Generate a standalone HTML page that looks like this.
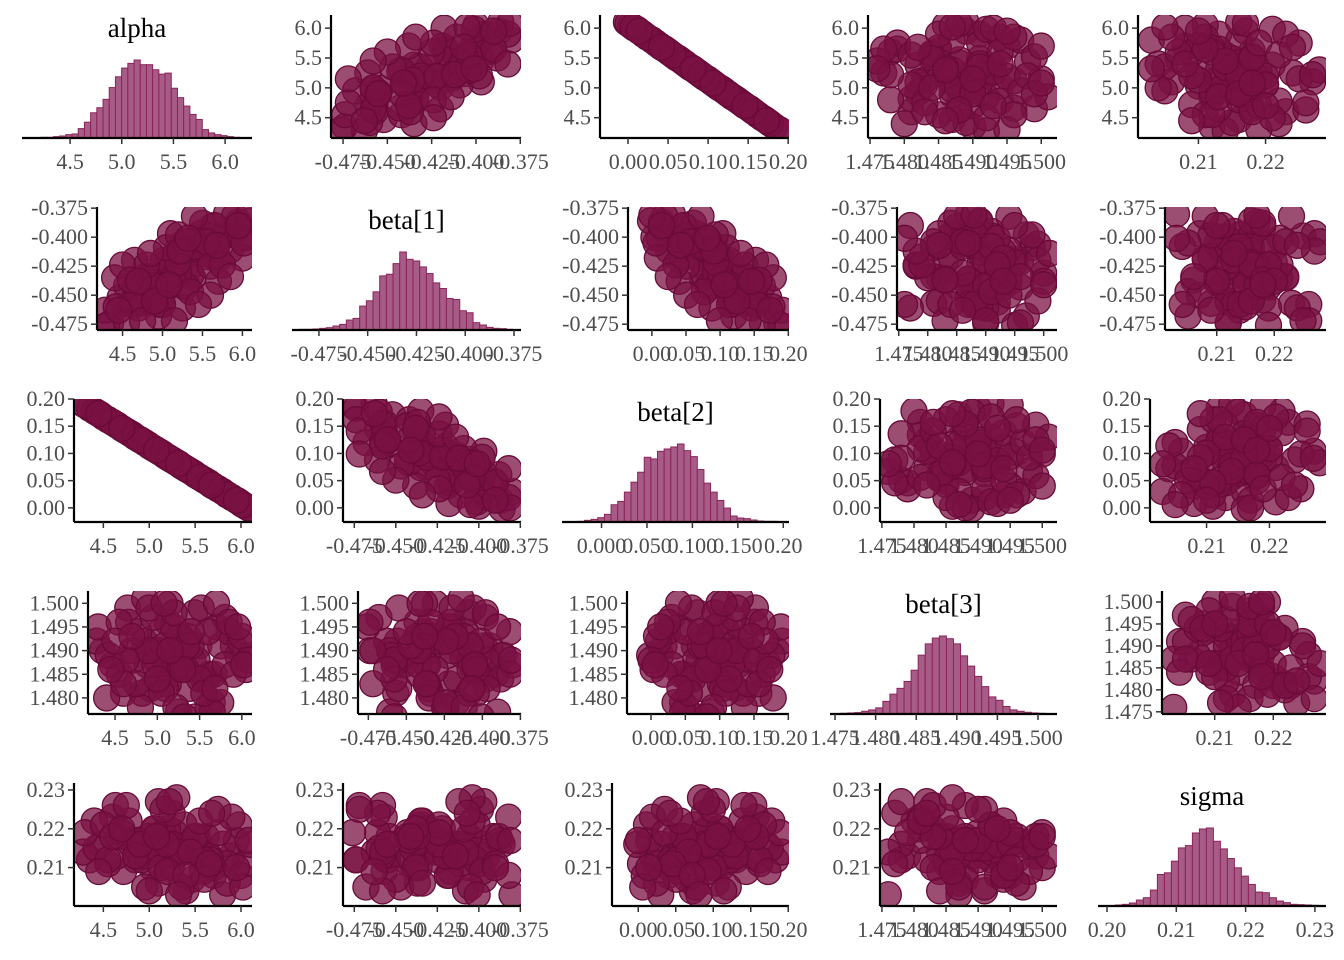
<!DOCTYPE html>
<html><head><meta charset="utf-8">
<style>
html,body{margin:0;padding:0;background:#fff;}
svg{display:block;}
text{font-family:"Liberation Serif",serif;}
</style></head>
<body>
<svg id="chart" width="1344" height="960" viewBox="0 0 1344 960" xmlns="http://www.w3.org/2000/svg"></svg>
<script>
// ---- data ----
const paramNames = ["alpha","beta[1]","beta[2]","beta[3]","sigma"];
const alphaDraws = [5.21,4.85,5.62,5.03,4.47,5.38,5.90,5.12,4.72,5.55,5.28,4.95,6.05,5.44,4.60,5.17,5.70,4.88,5.33,5.06,4.35,5.80,5.24,4.99,5.49,5.65,4.78,5.10,5.95,5.36,4.55,5.15,5.42,4.92,5.75,5.01,5.58,4.66,5.30,6.10,4.28,5.20,5.85,4.82,5.47,5.08,4.70,5.67,5.26,4.97,5.52,5.13,4.42,5.98,5.34,4.90,5.60,5.19,4.63,5.40,
 4.40,4.95,5.50,6.00,4.65,5.25,5.80,4.30,5.10,5.70,4.80,5.35,5.90,4.55,5.05,5.60,6.08,4.75,5.20,5.45,4.50,5.00,5.75,4.85,5.30,5.85,4.60,5.15,5.65,5.40,4.90,5.55,6.02,4.70,5.22,5.95,4.45,5.08,5.68,5.32];
const beta1Draws = [-0.423,-0.456,-0.391,-0.439,-0.452,-0.435,-0.395,-0.421,-0.457,-0.398,-0.443,-0.435,-0.400,-0.409,-0.457,-0.413,-0.419,-0.436,-0.427,-0.422,-0.474,-0.398,-0.406,-0.454,-0.414,-0.417,-0.434,-0.437,-0.387,-0.432,-0.442,-0.431,-0.408,-0.455,-0.399,-0.420,-0.417,-0.443,-0.442,-0.386,-0.463,-0.431,-0.411,-0.434,-0.397,-0.440,-0.461,-0.402,-0.412,-0.458,-0.406,-0.436,-0.460,-0.401,-0.408,-0.442,-0.425,-0.422,-0.458,-0.408,
 -0.435,-0.468,-0.388,-0.418,-0.420,-0.461,-0.380,-0.476,-0.397,-0.438,-0.424,-0.447,-0.382,-0.474,-0.409,-0.450,-0.381,-0.472,-0.398,-0.458,-0.424,-0.458,-0.424,-0.414,-0.404,-0.434,-0.437,-0.472,-0.390,-0.382,-0.455,-0.404,-0.405,-0.438,-0.412,-0.390,-0.463,-0.441,-0.407,-0.401];
const beta2Draws = [0.092,0.130,0.049,0.111,0.171,0.074,0.019,0.102,0.144,0.056,0.085,0.120,0.003,0.068,0.157,0.096,0.040,0.127,0.080,0.108,0.183,0.030,0.089,0.116,0.063,0.046,0.138,0.104,0.014,0.076,0.162,0.099,0.070,0.123,0.035,0.113,0.053,0.151,0.083,-0.002,0.191,0.093,0.024,0.134,0.065,0.106,0.146,0.043,0.087,0.118,0.059,0.101,0.176,0.011,0.078,0.125,0.051,0.094,0.154,0.072,
 0.178,0.120,0.061,0.008,0.152,0.088,0.030,0.189,0.104,0.040,0.136,0.077,0.019,0.162,0.109,0.051,0.000,0.141,0.093,0.067,0.167,0.114,0.035,0.130,0.083,0.024,0.157,0.099,0.046,0.072,0.125,0.056,0.006,0.146,0.091,0.014,0.173,0.106,0.042,0.081];
const beta3Draws = [1.489,1.492,1.485,1.494,1.487,1.482,1.491,1.496,1.488,1.484,1.493,1.490,1.486,1.498,1.481,1.489,1.495,1.487,1.492,1.483,1.490,1.497,1.486,1.488,1.491,1.479,1.494,1.487,1.489,1.493,1.485,1.500,1.488,1.482,1.491,1.490,1.484,1.496,1.487,1.489,1.492,1.486,1.494,1.481,1.488,1.491,1.490,1.485,1.493,1.487,1.499,1.483,1.489,1.492,1.486,1.490,1.478,1.495,1.488,1.491,
 1.480,1.497,1.484,1.493,1.499,1.477,1.487,1.495,1.482,1.500,1.478,1.491,1.485,1.496,1.481,1.494,1.488,1.483,1.498,1.476,1.492,1.484,1.479,1.501,1.486,1.496,1.483,1.490,1.477,1.494,1.499,1.481,1.487,1.493,1.478,1.495,1.486,1.500,1.482,1.476];
const sigmaDraws = [0.215,0.212,0.218,0.210,0.216,0.221,0.213,0.217,0.209,0.214,0.219,0.215,0.211,0.216,0.223,0.213,0.208,0.217,0.214,0.220,0.212,0.216,0.210,0.218,0.215,0.213,0.222,0.206,0.217,0.214,0.211,0.219,0.216,0.212,0.225,0.215,0.209,0.218,0.213,0.216,0.214,0.220,0.211,0.217,0.207,0.215,0.219,0.212,0.216,0.213,0.218,0.210,0.215,0.221,0.214,0.217,0.212,0.216,0.226,0.204,
 0.222,0.205,0.218,0.208,0.213,0.224,0.203,0.219,0.227,0.210,0.216,0.205,0.223,0.212,0.220,0.207,0.217,0.226,0.209,0.214,0.221,0.204,0.219,0.213,0.228,0.206,0.218,0.225,0.211,0.208,0.216,0.222,0.205,0.220,0.227,0.210,0.209,0.218,0.224,0.203];
const draws = [alphaDraws,beta1Draws,beta2Draws,beta3Draws,sigmaDraws];

// histogram counts
const alphaCounts = [1,1,2,2,4,6,10,12,28,47,75,90,115,150,182,208,222,232,218,218,203,190,193,148,120,95,70,55,25,15,10,7,4,2,1];
const beta1Counts = [1,2,2,3,5,7,12,17,30,35,72,88,115,163,168,200,235,213,208,190,170,142,125,95,92,58,52,22,15,8,5,4,2];
const beta2Counts = [2,5,8,13,23,52,62,90,120,150,195,190,213,220,226,235,215,197,158,117,90,65,42,18,12,10,6,3,2,2,1];
const beta3Counts = [1,2,3,4,8,12,18,37,58,75,95,128,172,205,222,228,220,205,170,140,110,80,50,40,22,12,8,5,3,2,1];
const sigmaCounts = [1,3,5,9,18,25,48,95,100,135,175,182,220,232,235,195,172,143,115,90,65,42,40,25,15,10,5,4,3,2,1];
const histCounts = [alphaCounts,beta1Counts,beta2Counts,beta3Counts,sigmaCounts];
const histBinStart = [4.099,-0.4883,-0.026,1.4748,0.2002];
const histBinWidth = [0.06,0.00342,0.0073,0.00087,0.00101];

// tick labels
const alphaTicks = ["4.5","5.0","5.5","6.0"];
const beta1Ticks = ["-0.475","-0.450","-0.425","-0.400","-0.375"];
const beta2Ticks = ["0.00","0.05","0.10","0.15","0.20"];
const beta3Ticks = ["1.475","1.480","1.485","1.490","1.495","1.500"];
const sigmaTicks = ["0.20","0.21","0.22","0.23"];
const tickLabels = [alphaTicks,beta1Ticks,beta2Ticks,beta3Ticks,sigmaTicks];
const beta2HistTicks = ["0.000","0.050","0.100","0.150","0.20"];

// ---- layout ----
const scatterDom = [[4.18,6.12],[-0.4818,-0.3746],[-0.035,0.201],[1.4747,1.5023],[0.201,0.229]];
const scatterYDom = [[4.16,6.22],[-0.48,-0.374],[-0.026,0.20],[1.4766,1.5026],[0.2001,0.2318]];
const histDom = [[4.035,6.26],[-0.4888,-0.3714],[-0.0435,0.2063],[1.47438,1.50234],[0.1987,0.2316]];
const rightEdge = [252,521,789,1057,1326];
const histLeft = [22,292,562,830,1098];
const axisLeft = [[0,331,600,868,1138],[97,0,628,897,1165],[74,343,0,880,1150],[88,358,627,0,1162],[74,343,612,880,0]];

const svg = document.getElementById('chart');
const NS = 'http://www.w3.org/2000/svg';
function mk(tag, attrs, parent){
  const e = document.createElementNS(NS, tag);
  for (const k in attrs) e.setAttribute(k, attrs[k]);
  (parent||svg).appendChild(e);
  return e;
}
function scale(d, r){ return v => r[0] + (v - d[0]) / (d[1] - d[0]) * (r[1] - r[0]); }
const defs = mk('defs', {});
const FS = 22;

for (let r = 0; r < 5; r++) {
  const top = 15 + 192 * r, bottom = 138 + 192 * r;
  for (let c = 0; c < 5; c++) {
    const g = mk('g', {});
    if (r === c) {
      
      
      const L = histLeft[c], R = rightEdge[c];
      const xs = scale(histDom[c], [L, R]);
      const counts = histCounts[c];
      const mx = Math.max(...counts);
      counts.forEach((n, i) => {
        const x0 = xs(histBinStart[c] + i * histBinWidth[c]);
        const x1 = xs(histBinStart[c] + (i + 1) * histBinWidth[c]);
        const h = n / mx * 78;
        const b = mk('rect', {x:x0, y:bottom - h, width:Math.max(0.5,x1 - x0), height:h, fill:'#a65c86', stroke:'#8c2358', 'stroke-width':1}, g);
        
        
      });
      const ax = mk('line', {x1:L, x2:R, y1:bottom, y2:bottom, stroke:'#000', 'stroke-width':2.2}, g);
      
      
      const labels = (c === 2) ? beta2HistTicks : tickLabels[c];
      labels.forEach(t => {
        const v = parseFloat(t);
        const x = xs(v);
        mk('line', {x1:x, x2:x, y1:bottom, y2:bottom + 6, stroke:'#333', 'stroke-width':1.5}, g);
        const tx = mk('text', {x:x, y:bottom + 31, 'text-anchor':'middle', 'font-size':FS, fill:'#4d4d4d'}, g);
        tx.textContent = t;
        
        
      });
      const ttl = mk('text', {x:(L + R) / 2, y:top + 22, 'text-anchor':'middle', 'font-size':27, fill:'#000'}, g);
      ttl.textContent = paramNames[c];
      
      
    } else {
      
      
      const L = axisLeft[r][c], R = rightEdge[c];
      const yd = (r === 3 && c === 4) ? [1.4745,1.5025] : scatterYDom[r];
      const xs = scale(scatterDom[c], [L, R]);
      const ys = scale(yd, [bottom, top]);
      const cid = 'clip' + r + c;
      const cp = mk('clipPath', {id:cid}, defs);
      mk('rect', {x:L, y:top, width:R - L, height:bottom - top}, cp);
      const pg = mk('g', {'clip-path':'url(#' + cid + ')'}, g);
      const xv = draws[c], yv = draws[r];
      for (let i = 0; i < xv.length; i++) {
        const p = mk('circle', {cx:xs(xv[i]), cy:ys(yv[i]), r:13, fill:'#7a1143', 'fill-opacity':0.75, stroke:'#6a0a38', 'stroke-width':1.3}, pg);
        
        
      }
      const xa = mk('line', {x1:L, x2:R, y1:bottom, y2:bottom, stroke:'#000', 'stroke-width':2.2}, g);
      
      
      const ya = mk('line', {x1:L, x2:L, y1:top, y2:bottom, stroke:'#000', 'stroke-width':2.2}, g);
      
      
      tickLabels[c].forEach(t => {
        const v = parseFloat(t);
        if (v < scatterDom[c][0] - 1e-9 || v > scatterDom[c][1] + 1e-9) return;
        const x = xs(v);
        mk('line', {x1:x, x2:x, y1:bottom, y2:bottom + 6, stroke:'#333', 'stroke-width':1.5}, g);
        const tx = mk('text', {x:x, y:bottom + 31, 'text-anchor':'middle', 'font-size':FS, fill:'#4d4d4d'}, g);
        tx.textContent = t;
        
        
      });
      tickLabels[r].forEach(t => {
        const v = parseFloat(t);
        if (v < yd[0] - 1e-9 || v > yd[1] + 1e-9) return;
        const y = ys(v);
        mk('line', {x1:L - 6, x2:L, y1:y, y2:y, stroke:'#333', 'stroke-width':1.5}, g);
        const tx = mk('text', {x:L - 9, y:y + 7, 'text-anchor':'end', 'font-size':FS, fill:'#4d4d4d'}, g);
        tx.textContent = t;
        
        
      });
    }
  }
}
</script>
</body></html>
